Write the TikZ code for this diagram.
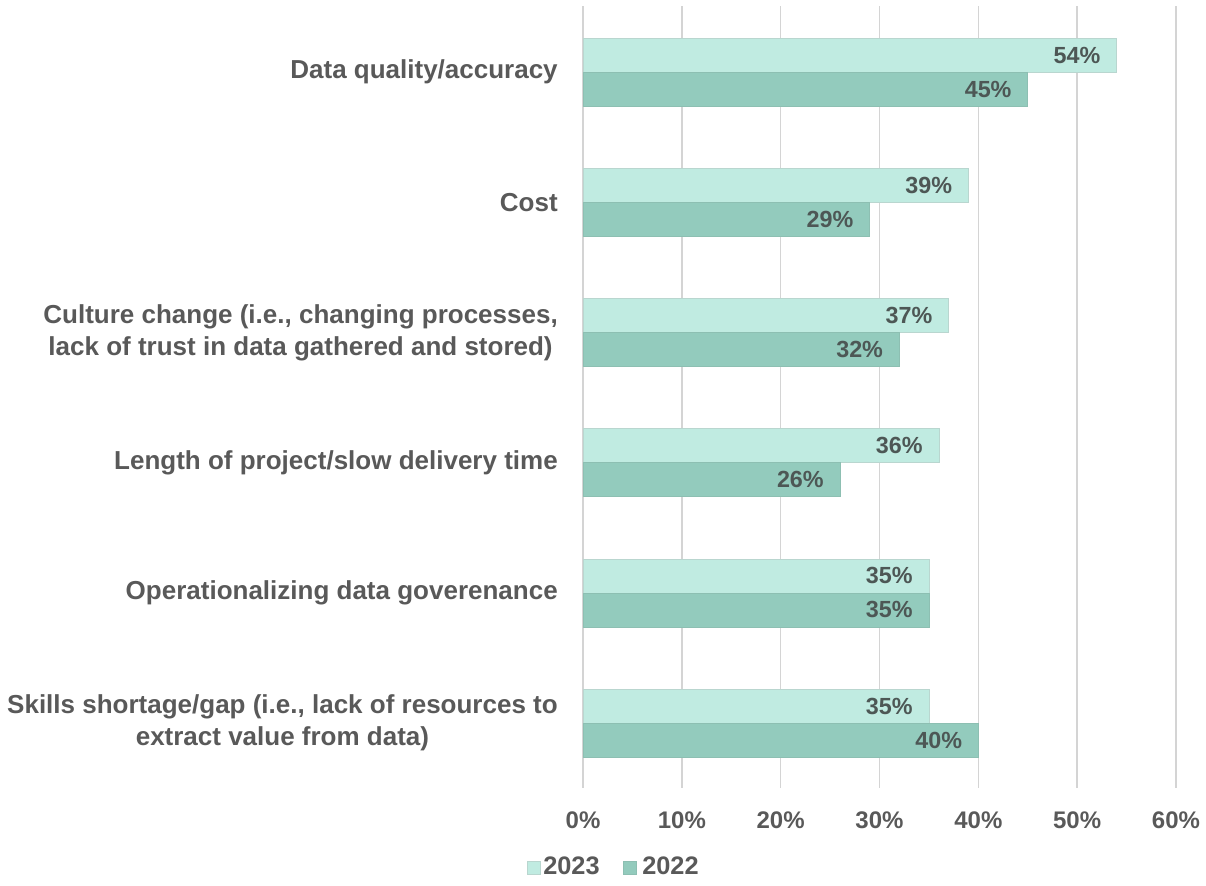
\documentclass[tikz,border=0pt]{standalone}
\usepackage{fontspec}
\setmainfont{Liberation Sans}
\definecolor{txt}{HTML}{595959}
\definecolor{lbl}{HTML}{4D5755}
\definecolor{grid}{HTML}{D4D4D4}
\definecolor{cA}{HTML}{C0EBE1}
\definecolor{cB}{HTML}{93CBBD}
\definecolor{edgeA}{HTML}{B9D6CF}
\definecolor{edgeB}{HTML}{8DBFB2}
\tikzset{
  cat/.style={anchor=east, align=center, text=txt, font=\fontsize{19.5}{24}\selectfont\bfseries, inner sep=0pt},
  tick/.style={anchor=center, text=txt, font=\fontsize{18}{22}\selectfont\bfseries, inner sep=0pt},
  leg/.style={anchor=west, text=txt, font=\fontsize{19}{22}\selectfont\bfseries, inner sep=0pt},
  val/.style={anchor=east, text=lbl, font=\fontsize{17.5}{21}\selectfont\bfseries, inner sep=0pt},
  barA/.style={fill=cA, draw=edgeA, line width=0.4pt},
  barB/.style={fill=cB, draw=edgeB, line width=0.4pt},
  gridline/.style={draw=grid, line width=1.2pt},
}
\begin{document}
\begin{tikzpicture}[x=0.75pt,y=-0.75pt]
\useasboundingbox (0,0) rectangle (1206,885);
% gridlines
\foreach \i in {0,...,6} {
  \coordinate (gt\i) at ({583+\i*98.83},6);
  \coordinate (gb\i) at ({583+\i*98.83},788);
  \draw[gridline] (gt\i) -- (gb\i);
  \pgfmathtruncatemacro{\p}{\i*10}
  \node[tick] (tk\i) at ({583+\i*98.83},820) {\p\%};
}
% bars
\foreach \k/\a/\b/\name in {0/54/45/{Data quality/accuracy},
                            1/39/29/{Cost},
                            2/37/32/{Culture change (i.e., changing processes,\\lack of trust in data gathered and stored)},
                            3/36/26/{Length of project/slow delivery time},
                            4/35/35/{Operationalizing data goverenance},
                            5/35/40/{Skills shortage/gap (i.e., lack of resources to\\extract value from data)}} {
  \pgfmathsetmacro{\c}{72+\k*130.2}
  \draw[barA] (583,{\c-34}) rectangle ({583+\a*9.883},\c);
  \draw[barB] (583,\c) rectangle ({583+\b*9.883},{\c+34});
  \node[val] (va\k) at ({583+\a*9.883-16},{\c-17}) {\a\%};
  \node[val] (vb\k) at ({583+\b*9.883-16},{\c+17}) {\b\%};
  \node[cat] (cat\k) at (558,\c) {\name};
}
% legend
\draw[fill=cA, draw=edgeA] (527,861) rectangle (540,874);
\node[leg] (l23) at (543,866) {2023};
\draw[fill=cB, draw=edgeB] (623,861) rectangle (636,874);
\node[leg] (l22) at (642,866) {2022};
\end{tikzpicture}
\end{document}
